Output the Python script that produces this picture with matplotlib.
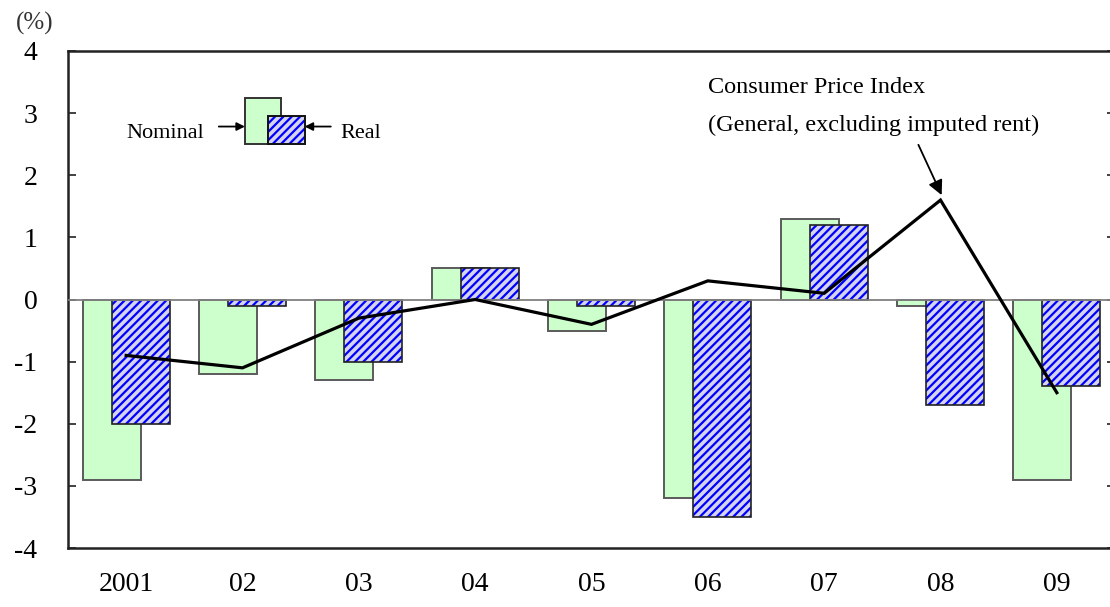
import numpy as np
import matplotlib
matplotlib.use("Agg")
import matplotlib.pyplot as plt
from matplotlib.patches import Rectangle

# data (% change)
years = ["2001", "02", "03", "04", "05", "06", "07", "08", "09"]
nominal = [-2.9, -1.2, -1.3, 0.5, -0.5, -3.2, 1.3, -0.1, -2.9]
real = [-2.0, -0.1, -1.0, 0.5, -0.1, -3.5, 1.2, -1.7, -1.4]
cpi = [-0.9, -1.1, -0.3, 0.0, -0.4, 0.3, 0.1, 1.6, -1.5]

GREEN = "#ccffcc"
GREEN_EDGE = "#5a5a5a"
BLUE = "#0000ff"
STRIPE_BG = "#d4d4ee"
FONT = "Liberation Serif"

plt.rcParams["font.family"] = FONT
plt.rcParams["axes.unicode_minus"] = False
plt.rcParams["hatch.linewidth"] = 1.6

fig = plt.figure(figsize=(11.1, 6.07), dpi=100)
ax = fig.add_axes([68 / 1110, 59 / 607, 1047 / 1110, 497 / 607])

x = np.arange(len(years)) + 0.5
w = 0.5

ax.bar(x - 0.125, nominal, w, color=GREEN, edgecolor=GREEN_EDGE, lw=1.4, zorder=2)
ax.bar(x + 0.125, real, w, color=STRIPE_BG, edgecolor=BLUE, hatch="////", lw=0, zorder=3)
ax.bar(x + 0.125, real, w, fill=False, edgecolor="#222222", lw=1.2, zorder=4)

ax.axhline(0, color="#808080", lw=1.3, zorder=5)
ax.plot(x, cpi, color="black", lw=2.3, zorder=6, solid_joinstyle="miter")

ax.set_xlim(0, len(years))
ax.set_ylim(-4, 4)
ax.set_yticks(range(-4, 5))
ax.set_xticks(x)
ax.set_xticklabels(years)
ax.tick_params(axis="y", direction="in", length=6, width=1.2, right=True,
               labelsize=20, pad=22, colors="#222222", labelcolor="black")
ax.tick_params(axis="x", length=0, labelsize=20, pad=17)
for s in ax.spines.values():
    s.set_color("#222222")
    s.set_linewidth(1.8)

# legend drawn as small patches with arrows
ax.add_patch(Rectangle((0.169, 0.813), 0.034, 0.093, transform=ax.transAxes,
                       facecolor=GREEN, edgecolor="#333333", lw=1.4, zorder=7))
ax.add_patch(Rectangle((0.191, 0.813), 0.035, 0.057, transform=ax.transAxes,
                       facecolor=STRIPE_BG, edgecolor=BLUE, hatch="////", lw=0, zorder=8))
ax.add_patch(Rectangle((0.191, 0.813), 0.035, 0.057, transform=ax.transAxes,
                       fill=False, edgecolor="#111111", lw=1.4, zorder=9))
arrow = dict(arrowstyle="-|>", color="black", lw=1.3, mutation_scale=12,
             shrinkA=0, shrinkB=0)
ax.annotate("", xy=(0.169, 0.848), xytext=(0.144, 0.848),
            xycoords="axes fraction", arrowprops=arrow)
ax.annotate("", xy=(0.226, 0.848), xytext=(0.251, 0.848),
            xycoords="axes fraction", arrowprops=arrow)
ax.text(0.130, 0.833, "Nominal", transform=ax.transAxes, ha="right",
        va="center", fontsize=16)
ax.text(0.260, 0.833, "Real", transform=ax.transAxes, ha="left",
        va="center", fontsize=16)

# CPI annotation
ax.text(5.5, 3.42, "Consumer Price Index", ha="left", va="center", fontsize=17.5)
ax.text(5.5, 2.81, "(General, excluding imputed rent)", ha="left", va="center",
        fontsize=17.5)
ax.annotate("", xy=(7.51, 1.68), xytext=(7.31, 2.49),
            arrowprops=dict(arrowstyle="-|>", color="black", lw=1.3,
                            mutation_scale=22, shrinkA=0, shrinkB=0))

fig.text(35 / 1110, 1 - 23 / 607, "(%)", ha="center", va="center", fontsize=18,
         color="#333333")

fig.savefig("out.png", dpi=100)
